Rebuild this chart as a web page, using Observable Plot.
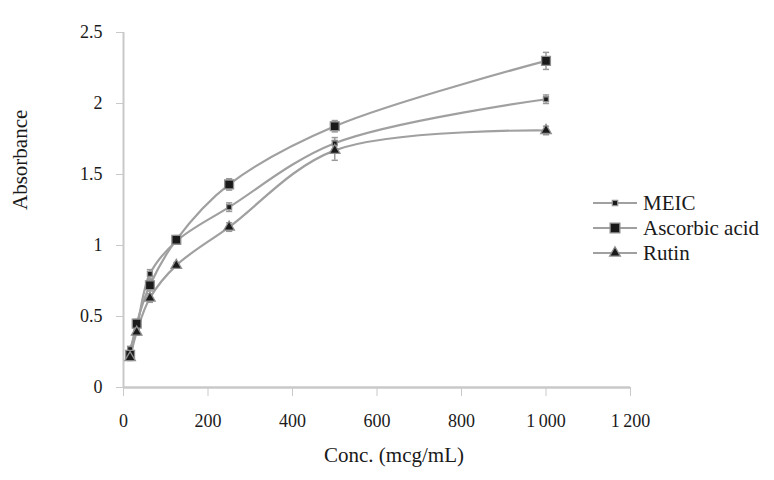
<!DOCTYPE html>
<html><head><meta charset="utf-8">
<script src="https://cdn.jsdelivr.net/npm/d3@7"></script>
<script src="https://cdn.jsdelivr.net/npm/@observablehq/plot@0.6"></script>
<style>body{margin:0;background:#fff}</style>
</head><body><div id="chart"></div>
<script>
const conc = [15.6, 31.25, 62.5, 125, 250, 500, 1000];
const seriesNames = ["MEIC", "Ascorbic acid", "Rutin"];
const meic = [0.27, 0.42, 0.80, 1.03, 1.27, 1.72, 2.03];
const ascorbic = [0.23, 0.45, 0.72, 1.04, 1.43, 1.84, 2.30];
const rutin = [0.21, 0.39, 0.63, 0.86, 1.13, 1.67, 1.81];
const meicErr = [0.02, 0.02, 0.03, 0.02, 0.03, 0.04, 0.03];
const ascorbicErr = [0.03, 0.03, 0.04, 0.03, 0.04, 0.04, 0.06];
const rutinErr = [0.02, 0.02, 0.03, 0.02, 0.03, 0.07, 0.03];
const xTicks = [0, 200, 400, 600, 800, 1000, 1200];
const yTicks = [0, 0.5, 1, 1.5, 2, 2.5];
const symbols = ["square", "square", "triangle"];
const sizes = [2.8, 5, 3.9];

const vals = [meic, ascorbic, rutin];
const errs = [meicErr, ascorbicErr, rutinErr];
const data = [];
seriesNames.forEach((s, k) => conc.forEach((c, i) => data.push({series: s, k, x: c, y: vals[k][i], e: errs[k][i]})));

const fmt = d => d >= 1000 ? String(Math.floor(d / 1000)) + "\u2009" + String(d % 1000).padStart(3, "0") : String(d);
const capSymbol = {draw(ctx, size) { const w = Math.sqrt(size) / 2; ctx.moveTo(-w, 0); ctx.lineTo(w, 0); }};

const marks = [
  Plot.ruleY([0], {stroke: "#c9c9c9", strokeWidth: 2.5}),
  Plot.ruleX([0], {y1: 0, y2: 2.5, stroke: "#c9c9c9", strokeWidth: 2}),
  Plot.axisX({ticks: xTicks, tickSize: 9, tickPadding: 18, stroke: "#c9c9c9", fill: "#1a1a1a", tickFormat: fmt, label: null, fontSize: 18}),
  Plot.axisY({ticks: yTicks, tickSize: 7, tickPadding: 14, stroke: "#c9c9c9", fill: "#1a1a1a", tickFormat: d => String(d), label: null, fontSize: 18}),
  Plot.line(data, {x: "x", y: "y", z: "series", curve: "catmull-rom", stroke: "#a0a0a0", strokeWidth: 2.2}),
  Plot.ruleX(data, {x: "x", y1: d => d.y - d.e, y2: d => d.y + d.e, stroke: "#999", strokeWidth: 1.5}),
  Plot.dot(data, {x: "x", y: d => d.y - d.e, symbol: capSymbol, r: 3.5, stroke: "#999", strokeWidth: 1.5}),
  Plot.dot(data, {x: "x", y: d => d.y + d.e, symbol: capSymbol, r: 3.5, stroke: "#999", strokeWidth: 1.5}),
  Plot.text(["Conc. (mcg/mL)"], {text: d => d, frameAnchor: "bottom", dy: 74, dx: 17, fontSize: 21, fill: "#1a1a1a"}),
  Plot.text(["Absorbance"], {text: d => d, frameAnchor: "left", dx: -103, rotate: -90, fontSize: 21, fill: "#1a1a1a"})
];
seriesNames.forEach((s, k) => {
  const sub = data.filter(d => d.k === k);
  marks.push(Plot.dot(sub, {x: "x", y: "y", symbol: symbols[k], r: sizes[k], fill: "#1a1a1a", stroke: "#8f8f8f", strokeWidth: 1.3}));
});

const plot = Plot.plot({
  width: 774, height: 480,
  marginLeft: 123, marginRight: 144, marginTop: 32, marginBottom: 93,
  style: {fontFamily: "Liberation Serif", fontSize: "18px", background: "#fff", color: "#1a1a1a"},
  x: {type: "linear", domain: [0, 1200]},
  y: {type: "linear", domain: [0, 2.5]},
  marks
});
document.getElementById("chart").append(plot);

// legend
const svg = d3.select(plot);
const lg = svg.append("g").attr("font-family", "Liberation Serif").attr("font-size", 21).attr("text-anchor", "start");
const ys = [203, 228, 253];
seriesNames.forEach((s, k) => {
  lg.append("line").attr("x1", 593).attr("x2", 637).attr("y1", ys[k]).attr("y2", ys[k]).attr("stroke", "#a0a0a0").attr("stroke-width", 2.2);
  const sym = d3.symbol().type(k === 2 ? d3.symbolTriangle : d3.symbolSquare).size(k === 0 ? 28 : (k === 1 ? 95 : 50));
  lg.append("path").attr("d", sym()).attr("transform", `translate(${615},${ys[k]})`).attr("fill", "#1a1a1a").attr("stroke", "#8f8f8f").attr("stroke-width", 1.3);
  lg.append("text").attr("x", 643).attr("y", ys[k]).attr("dy", "0.35em").attr("fill", "#1a1a1a").attr("text-anchor", "start").text(s);
});
</script></body></html>
